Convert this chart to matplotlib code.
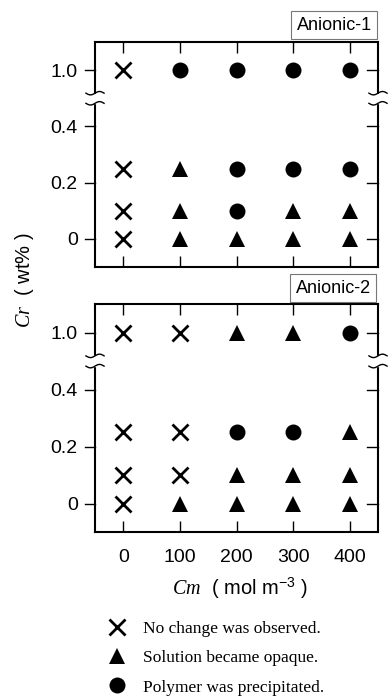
import numpy as np
import matplotlib
matplotlib.use('Agg')
from matplotlib import pyplot as plt
from matplotlib.lines import Line2D
from matplotlib.patches import Rectangle

plt.rcParams['font.family'] = ['Liberation Sans', 'DejaVu Sans']
plt.rcParams['mathtext.fontset'] = 'custom'
plt.rcParams['mathtext.it'] = 'Liberation Serif:italic'
plt.rcParams['mathtext.rm'] = 'Liberation Sans'

# monomer concentration (mol m-3)
cm = [0, 100, 200, 300, 400]
# polymer concentration (wt%), rows from bottom to top
cr = [0, 0.1, 0.25, 1.0]
# 1.0 is drawn above the axis break
cr_plot = [0, 0.1, 0.25, 0.6]
ytick_pos = [0, 0.2, 0.4, 0.6]
ytick_labels = ['0', '0.2', '0.4', '1.0']

# x = no change, t = opaque, o = precipitated
anionic1 = ['xtttt',
            'xtott',
            'xtooo',
            'xoooo']
anionic2 = ['xtttt',
            'xxttt',
            'xxoot',
            'xxtto']

markers = {
    'x': dict(marker='x', ms=12, mew=2.0),
    't': dict(marker='^', ms=12, mew=0),
    'o': dict(marker='o', ms=11.5, mew=0),
}

fig = plt.figure(figsize=(3.9, 6.98), dpi=100)
W, H = 390.0, 698.0


def panel(top_px, bottom_px, grid, name, box):
    ax = fig.add_axes([95 / W, 1 - bottom_px / H, 283 / W, (bottom_px - top_px) / H])
    for j, row in enumerate(grid):
        for i, code in enumerate(row):
            ax.plot(cm[i], cr_plot[j], color='black', linestyle='none', **markers[code])
    ax.set_xlim(-50, 450)
    ax.set_ylim(-0.1, 0.7)
    ax.set_xticks(cm)
    ax.set_yticks(ytick_pos)
    ax.set_yticklabels(ytick_labels)
    ax.tick_params(axis='x', direction='in', top=True, length=8, width=1.0, labelsize=14, pad=12)
    ax.tick_params(axis='y', which='both', left=False, right=False, labelsize=14, pad=9)
    for s in ax.spines.values():
        s.set_linewidth(1.5)
    # left ticks outward, right ticks inward
    tr = ax.get_yaxis_transform()
    for y in ytick_pos:
        ax.plot([-0.037, 0], [y, y], color='black', lw=1.0, transform=tr, clip_on=False)
        ax.plot([0.96, 1], [y, y], color='black', lw=1.0, transform=tr, clip_on=False)
    # axis break on both sides
    t = np.linspace(-1, 1, 40)
    for xc in [0, 1]:
        ax.add_patch(Rectangle((xc - 0.01, 0.484), 0.02, 0.032, transform=tr, color='white', zorder=5, clip_on=False))
        for yc in [0.518, 0.482]:
            ax.plot(xc + t * 0.032, yc + 0.006 * np.sin(t * np.pi), color='black', lw=1.0, transform=tr, clip_on=False, zorder=6)
    fig.text(box[0] / W, 1 - box[1] / H, name, fontsize=13, ha='right', va='center',
             bbox=dict(boxstyle='square,pad=0.3', fc='white', ec='#777777', lw=0.8))
    return ax


ax1 = panel(42, 267, anionic1, 'Anionic-1', (372, 25))
ax1.set_xticklabels([])
ax2 = panel(304, 532, anionic2, 'Anionic-2', (371, 288))

fig.text(24 / W, 1 - 280 / H, r'$\mathit{Cr}$  ( wt% )', rotation=90, fontsize=14.5, ha='center', va='center')
fig.text(240 / W, 1 - 588 / H, r'$\mathit{Cm}$  ( mol m$^{-3}$ )', fontsize=14.5, ha='center', va='center')

handles = [Line2D([], [], color='black', linestyle='none', **markers[k]) for k in 'xto']
labels = ['No change was observed.', 'Solution became opaque.', 'Polymer was precipitated.']
fig.legend(handles, labels, loc='upper left', bbox_to_anchor=(108 / W, 1 - 621 / H), frameon=False,
           prop={'family': 'Liberation Serif', 'size': 12.5}, handlelength=1.0, handletextpad=1.0,
           labelspacing=0.75, borderpad=0, borderaxespad=0)

fig.savefig('out.png', dpi=100)
